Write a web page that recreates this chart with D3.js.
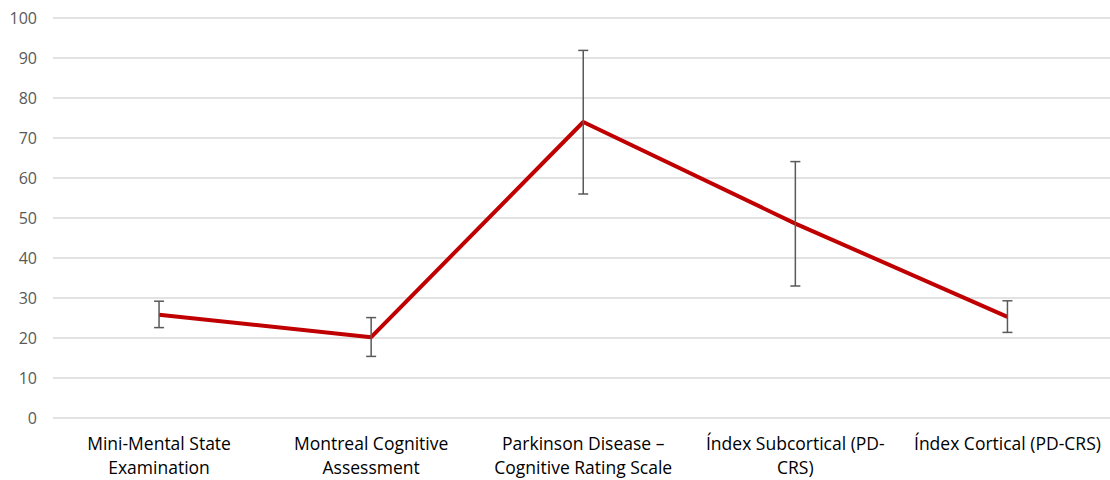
<!DOCTYPE html>
<html><head><meta charset="utf-8">
<script src="https://cdn.jsdelivr.net/npm/d3@7"></script>
<style>body{margin:0;background:#fff}svg{display:block}</style>
</head><body><svg id="c" width="1110" height="480"></svg>
<script>
const categories = ["Mini-Mental State Examination","Montreal Cognitive Assessment","Parkinson Disease – Cognitive Rating Scale","Índex Subcortical (PD-CRS)","Índex Cortical (PD-CRS)"];
const labelLines = [["Mini-Mental State","Examination"],["Montreal Cognitive","Assessment"],["Parkinson Disease –","Cognitive Rating Scale"],["Índex Subcortical (PD-","CRS)"],["Índex Cortical (PD-CRS)"]];
const means = [25.8, 20.2, 74.0, 48.6, 25.3];
const errLow = [22.6, 15.4, 56.0, 33.0, 21.4];
const errHigh = [29.2, 25.1, 91.9, 64.1, 29.3];
const yTicks = [0,10,20,30,40,50,60,70,80,90,100];

const svg = d3.select("#c");
const font = "'Open Sans', sans-serif";
const x = d3.scaleBand().domain(categories).range([53, 1113.5]);
const y = d3.scaleLinear().domain([0,100]).range([418, 18]);
const cx = c => x(c) + x.bandwidth()/2;

// gridlines
svg.append("g").selectAll("line").data(yTicks).join("line")
  .attr("x1", 53).attr("x2", 1110).attr("y1", d=>y(d)).attr("y2", d=>y(d))
  .attr("stroke", "#d9d9d9").attr("stroke-width", 1.3);

// y axis labels
const yAxis = d3.axisLeft(y).tickValues(yTicks).tickSize(0).tickPadding(0);
const ya = svg.append("g").attr("transform","translate(37,0)").call(yAxis);
ya.select(".domain").remove();
ya.selectAll("text").attr("fill","#595959").style("font-family",font).style("font-size","16px");

// x labels
const xl = svg.append("g").selectAll("text").data(categories).join("text")
  .attr("x", d=>cx(d)).attr("y", 450).attr("text-anchor","middle")
  .attr("fill","#000").style("font-family",font).style("font-size","17.5px");
xl.each(function(d,i){
  d3.select(this).selectAll("tspan").data(labelLines[i]).join("tspan")
    .attr("x", cx(d)).attr("dy",(t,j)=> j===0?0:24).text(t=>t);
});

// line
const pts = categories.map((c,i)=>[cx(c), y(means[i])]);
svg.append("path").attr("d", d3.line()(pts)).attr("fill","none")
  .attr("stroke","#c00000").attr("stroke-width",4).attr("stroke-linejoin","round");

// error bars
const eb = svg.append("g").attr("stroke","#595959").attr("stroke-width",1.5);
categories.forEach((c,i)=>{
  const xc = cx(c);
  eb.append("line").attr("x1",xc).attr("x2",xc).attr("y1",y(errLow[i])).attr("y2",y(errHigh[i]));
  eb.append("line").attr("x1",xc-5).attr("x2",xc+5).attr("y1",y(errLow[i])).attr("y2",y(errLow[i]));
  eb.append("line").attr("x1",xc-5).attr("x2",xc+5).attr("y1",y(errHigh[i])).attr("y2",y(errHigh[i]));
});
</script></body></html>
